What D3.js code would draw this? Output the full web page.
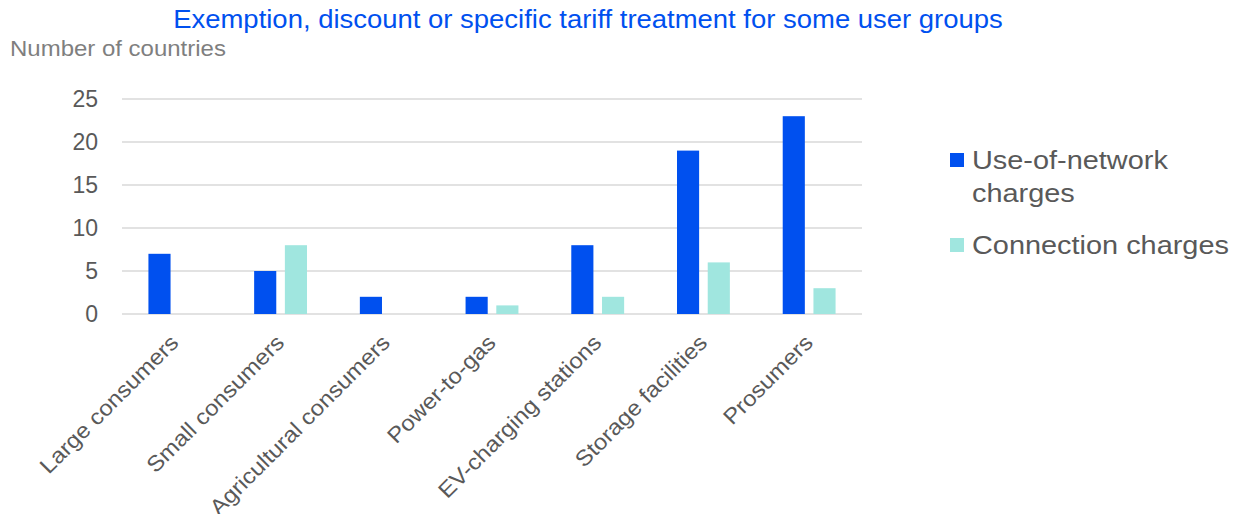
<!DOCTYPE html>
<html>
<head>
<meta charset="utf-8">
<script src="https://cdn.jsdelivr.net/npm/d3@7"></script>
<style>
  body { margin: 0; background: #fff; }
  text { font-family: "Liberation Sans", Arial, sans-serif; }
</style>
</head>
<body>
<svg id="chart" width="1234" height="514"></svg>
<script>
// chart data
const categories = ["Large consumers", "Small consumers", "Agricultural consumers", "Power-to-gas",
                    "EV-charging stations", "Storage facilities", "Prosumers"];
const seriesNames = ["Use-of-network charges", "Connection charges"];
const useOfNetwork = [7, 5, 2, 2, 8, 19, 23];
const connection = [0, 8, 0, 1, 2, 6, 3];
const yTicks = [0, 5, 10, 15, 20, 25];

const colors = ["#0050EF", "#A0E6DF"];
const textGrey = "#595959";
const widen = 1.09; // text in the source picture is a bit wider than Arial

const svg = d3.select("#chart");
const margin = {left: 122, right: 862, top: 99, bottom: 314};

let x = d3.scaleBand()
    .domain(categories)
    .range([margin.left, margin.right])
    .paddingInner(0).paddingOuter(0);

let xInner = d3.scaleBand()
    .domain(seriesNames)
    .range([0, x.bandwidth()])
    .paddingInner(0.28).paddingOuter(0.86);

let y = d3.scaleLinear()
    .domain([0, 25])
    .range([margin.bottom, margin.top]);

// stretch text horizontally by k
function stretch(sel, k){
    sel.each(function(){
        let w = this.getComputedTextLength();
        d3.select(this).attr("textLength", w * k).attr("lengthAdjust", "spacingAndGlyphs");
    });
}

// title
svg.append("text")
    .attr("x", 588).attr("y", 28)
    .attr("text-anchor", "middle")
    .style("font-size", "25.2px")
    .style("fill", "#0050EF")
    .text("Exemption, discount or specific tariff treatment for some user groups")
    .call(stretch, widen);

svg.append("text")
    .attr("x", 10).attr("y", 56)
    .style("font-size", "22px")
    .style("fill", "#7F7F7F")
    .text("Number of countries")
    .call(stretch, widen);

// gridlines
svg.append("g").selectAll("line")
    .data(yTicks)
    .join("line")
    .attr("x1", margin.left).attr("x2", margin.right)
    .attr("y1", d => y(d)).attr("y2", d => y(d))
    .style("stroke", "#D9D9D9")
    .style("stroke-width", 1.5);

// y axis labels
let yAxis = d3.axisLeft(y).tickValues(yTicks).tickSize(0).tickPadding(0);
let yg = svg.append("g")
    .attr("transform", "translate(98,0)")
    .call(yAxis);
yg.select(".domain").remove();
yg.selectAll("text")
    .style("font-size", "23px")
    .style("fill", textGrey)
    .style("font-family", "'Liberation Sans', Arial, sans-serif");

// bars
let rows = categories.map((c, i) => ({cat: c, vals: [useOfNetwork[i], connection[i]]}));
let groups = svg.append("g").selectAll("g")
    .data(rows)
    .join("g")
    .attr("transform", d => "translate(" + x(d.cat) + ",0)");

groups.selectAll("rect")
    .data(d => d.vals.map((v, j) => ({name: seriesNames[j], value: v, j: j})))
    .join("rect")
    .attr("x", d => xInner(d.name))
    .attr("width", xInner.bandwidth())
    .attr("y", d => y(d.value))
    .attr("height", d => y(0) - y(d.value))
    .style("fill", d => colors[d.j]);

// x labels, rotated
svg.append("g").selectAll("text")
    .data(categories)
    .join("text")
    .attr("transform", d => "translate(" + (x(d) + x.bandwidth() / 2 + 5) + ",344) rotate(-45)")
    .attr("text-anchor", "end")
    .style("font-size", "22px")
    .style("fill", textGrey)
    .text(d => d)
    .call(stretch, widen);

// legend
let legend = svg.append("g");
let legendRows = [
    {lines: ["Use-of-network", "charges"], y: 169},
    {lines: ["Connection charges"], y: 254}
];
legendRows.forEach((r, i) => {
    legend.append("rect")
        .attr("x", 950).attr("y", r.y - 16)
        .attr("width", 14).attr("height", 14)
        .style("fill", colors[i]);
    r.lines.forEach((l, k) => {
        legend.append("text")
            .attr("x", 972).attr("y", r.y + k * 33)
            .style("font-size", "26.5px")
            .style("fill", textGrey)
            .text(l)
            .call(stretch, widen);
    });
});
</script>
</body>
</html>
